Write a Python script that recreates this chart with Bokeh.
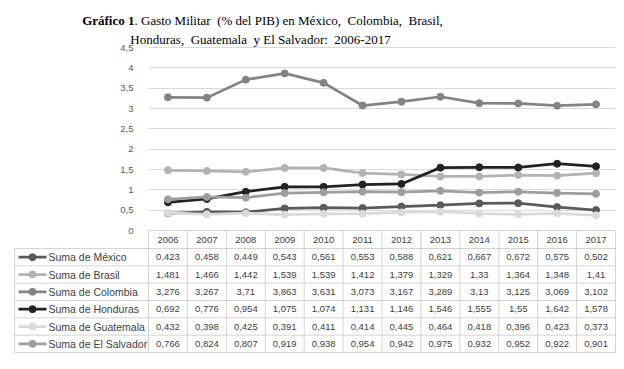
from bokeh.plotting import figure
from bokeh.models import (Range1d, LinearAxis, FixedTicker, Grid,
                          CustomJSTickFormatter)
from bokeh.core.properties import value
from bokeh.embed import file_html
from bokeh.resources import INLINE

# ---------------- data ----------------
YEARS = [2006, 2007, 2008, 2009, 2010, 2011, 2012, 2013, 2014, 2015, 2016, 2017]
SERIES_NAMES = ["Suma de México", "Suma de Brasil", "Suma de Colombia",
                "Suma de Honduras", "Suma de Guatemala", "Suma de El Salvador"]
MEXICO = [0.423, 0.458, 0.449, 0.543, 0.561, 0.553, 0.588, 0.621, 0.667, 0.672, 0.575, 0.502]
BRASIL = [1.481, 1.466, 1.442, 1.539, 1.539, 1.412, 1.379, 1.329, 1.33, 1.364, 1.348, 1.41]
COLOMBIA = [3.276, 3.267, 3.71, 3.863, 3.631, 3.073, 3.167, 3.289, 3.13, 3.125, 3.069, 3.102]
HONDURAS = [0.692, 0.776, 0.954, 1.075, 1.074, 1.131, 1.146, 1.546, 1.555, 1.55, 1.642, 1.578]
GUATEMALA = [0.432, 0.398, 0.425, 0.391, 0.411, 0.414, 0.445, 0.464, 0.418, 0.396, 0.423, 0.373]
EL_SALVADOR = [0.766, 0.824, 0.807, 0.919, 0.938, 0.954, 0.942, 0.975, 0.932, 0.952, 0.922, 0.901]
Y_TICKS = [0, 0.5, 1, 1.5, 2, 2.5, 3, 3.5, 4, 4.5]
TITLE_BOLD = "Gráfico 1"
TITLE_LINE1 = ". Gasto Militar  (% del PIB) en México,  Colombia,  Brasil,"
TITLE_LINE2 = "Honduras,  Guatemala  y El Salvador:  2006-2017"

SERIES = [MEXICO, BRASIL, COLOMBIA, HONDURAS, GUATEMALA, EL_SALVADOR]
COLORS = ["#5a5a5a", "#b3b3b3", "#838383", "#222222", "#dadada", "#9d9d9d"]

# ---------------- layout (pixels) ----------------
FIG_W, FIG_H = 616, 353
PL, PR = 148, 615          # plot area left / right
Y45, Y0 = 47, 230          # pixel rows of 4.5 and 0
TL = 14                    # table left edge
HEAD_H = 18
TABLE_BOTTOM = 352
ROW_H = (TABLE_BOTTOM - Y0 - HEAD_H) / len(SERIES)

ppx = (PR - PL) / len(YEARS)
ppy = (Y0 - Y45) / 4.5
x0, x1 = YEARS[0] - 0.5, YEARS[-1] + 0.5

p = figure(width=FIG_W, height=FIG_H, title=None,
           x_range=Range1d(x0 - PL / ppx, x1 + (FIG_W - PR) / ppx),
           y_range=Range1d(0 - (FIG_H - Y0) / ppy, 4.5 + Y45 / ppy),
           x_axis_location=None, y_axis_location=None,
           toolbar_location=None, output_backend="svg",
           min_border=0, outline_line_color=None)
p.border_fill_color = "white"
p.background_fill_color = "white"
for g in p.grid:
    g.visible = False
p.extra_x_ranges = {"px": Range1d(0, FIG_W)}
p.extra_y_ranges = {"px": Range1d(FIG_H, 0)}

# grid lines
grid = Grid(dimension=1, ticker=FixedTicker(ticks=Y_TICKS[1:]),
            cross_bounds=(x0, x1), grid_line_color="#d9d9d9", grid_line_width=1)
p.add_layout(grid)

NUM_FONT = "Liberation Sans"

# y axis
yax = LinearAxis(fixed_location=x0, ticker=FixedTicker(ticks=Y_TICKS),
                 formatter=CustomJSTickFormatter(code="return tick.toString().replace('.', ',')"),
                 axis_line_color=None, major_tick_line_color=None, minor_tick_line_color=None,
                 major_label_standoff=9,
                 major_label_text_font=NUM_FONT,
                 major_label_text_font_size="9.5px",
                 major_label_text_color="#595959")
p.add_layout(yax, "left")

# series
for vals, col in zip(SERIES, COLORS):
    p.line(YEARS, vals, line_color=col, line_width=2.75)
    p.scatter(YEARS, vals, size=7, fill_color=col, line_color=col)

# ---------------- table ----------------
LINE_C = "#d4d4d4"
hy = [Y0 + HEAD_H + ROW_H * k for k in range(len(SERIES) + 1)]
p.segment(x0=[PL] + [TL] * len(hy), x1=[PR] * (len(hy) + 1), y0=[Y0] + hy, y1=[Y0] + hy,
          line_color=LINE_C, line_width=1, x_range_name="px", y_range_name="px")
vx = [x0 + k for k in range(len(YEARS) + 1)]
p.segment(x0=vx, x1=vx, y0=[Y0] * len(vx), y1=[TABLE_BOTTOM] * len(vx),
          line_color=LINE_C, line_width=1, y_range_name="px")
p.segment(x0=[TL], x1=[TL], y0=[Y0 + HEAD_H], y1=[TABLE_BOTTOM],
          line_color=LINE_C, line_width=1, x_range_name="px", y_range_name="px")

# header years
p.text(x=YEARS, y=[Y0 + HEAD_H / 2] * len(YEARS), text=[str(y) for y in YEARS],
       text_font=value(NUM_FONT), text_font_size="9.5px", text_color="#404040",
       text_align="center", text_baseline="middle", y_range_name="px")

# values
xs, ys, ts = [], [], []
for i, vals in enumerate(SERIES):
    cy = Y0 + HEAD_H + ROW_H * (i + 0.5)
    for yr, v in zip(YEARS, vals):
        xs.append(yr); ys.append(cy); ts.append(str(v).replace(".", ","))
p.text(x=xs, y=ys, text=ts, text_font=value(NUM_FONT), text_font_size="9.5px",
       text_color="#404040", text_align="center", text_baseline="middle",
       y_range_name="px")

# row labels with legend keys
row_y = [Y0 + HEAD_H + ROW_H * (i + 0.5) for i in range(len(SERIES))]
p.segment(x0=[18] * len(SERIES), x1=[46] * len(SERIES), y0=row_y, y1=row_y,
          line_color=COLORS, line_width=2.75, x_range_name="px", y_range_name="px")
p.scatter(x=[32] * len(SERIES), y=row_y, size=7, fill_color=COLORS, line_color=COLORS,
          x_range_name="px", y_range_name="px")
p.text(x=[48] * len(SERIES), y=row_y, text=SERIES_NAMES,
       text_font=value("Liberation Sans"), text_font_size="10.5px", text_color="#404040",
       text_align="left", text_baseline="middle", x_range_name="px", y_range_name="px")

# ---------------- title ----------------
NB = "\u00a0"
TFONT = value("Liberation Serif")
XB = 134
p.text(x=[XB], y=[20], text=[TITLE_BOLD], text_font=TFONT, text_font_style="bold",
       text_font_size="13px", text_color="black", text_align="right",
       text_baseline="middle", x_range_name="px", y_range_name="px")
p.text(x=[XB], y=[20], text=[TITLE_LINE1.replace(" ", NB)], text_font=TFONT,
       text_font_size="13px", text_color="black", text_align="left",
       text_baseline="middle", x_range_name="px", y_range_name="px")
p.text(x=[260], y=[39], text=[TITLE_LINE2.replace(" ", NB)], text_font=TFONT,
       text_font_size="13px", text_color="black", text_align="center",
       text_baseline="middle", x_range_name="px", y_range_name="px")

open("out.html", "w").write(file_html(p, INLINE))
